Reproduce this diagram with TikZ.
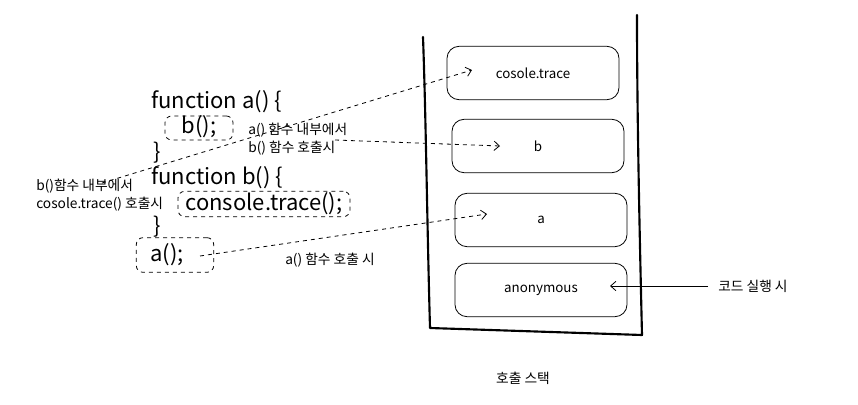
\documentclass[tikz,border=0pt]{standalone}
\usepackage{fontspec}
\setmainfont{Noto Sans CJK KR}
\usetikzlibrary{arrows.meta}
\begin{document}
\begin{tikzpicture}[x=0.75pt,y=-0.75pt,
  stackbox/.style={draw,rounded corners=9pt,line width=0.6pt,minimum width=129pt,minimum height=40pt,font=\fontsize{10}{12}\selectfont},
  codetxt/.style={font=\fontsize{16.5}{19}\selectfont,inner sep=0pt},
  codebox/.style={draw,dashed,rounded corners=5pt,line width=0.6pt},
  lbl/.style={font=\fontsize{10.3}{13.5}\selectfont,align=left,inner sep=0pt},
  dasharrow/.style={dashed,line width=0.6pt,-{Straight Barb[length=4pt,width=7pt]}},
  wall/.style={line width=1.6pt,line cap=round,line join=round}]
\useasboundingbox (0,0) rectangle (858,404);
% stack container
\draw[wall] (423,37) .. controls (426,120) and (427,220) .. (430,328)
  -- (642,335) .. controls (640,250) and (637,120) .. (637,15);
% stack boxes
\node[stackbox] (ct) at (533,73) {cosole.trace};
\node[stackbox] (bb) at (538,146) {b};
\node[stackbox] (ab) at (541,220) {a};
\node[stackbox] (an) at (541,290) {anonymous};
% code
\node[codetxt,anchor=west] (fa) at (151,102) {function a() \{};
\node[codebox,minimum width=51pt,minimum height=18pt] (bcallbox) at (199,128) {};
\node[codetxt] (bcall) at (199,127) {b();};
\node[codetxt] (c1) at (157,153) {\}};
\node[codetxt,anchor=west] (fb) at (151,178) {function b() \{};
\node[codebox,minimum width=129pt,minimum height=19pt] (ctbox) at (264,204) {};
\node[codetxt] (ctcall) at (264,204) {console.trace();};
\node[codetxt] (c2) at (157,227) {\}};
\node[codebox,minimum width=58pt,minimum height=26pt] (acallbox) at (175,255) {};
\node[codetxt] (acall) at (167,255) {a();};
% labels
\node[lbl,anchor=west] (l1) at (36,195) {b()함수 내부에서\\cosole.trace() 호출시};
\node[lbl,anchor=west] (l2) at (248,139) {a() 함수 내부에서\\b() 함수 호출시};
\node[lbl,anchor=west] (l3) at (285,260) {a() 함수 호출 시};
\node[lbl,anchor=west] (l4) at (718,286) {코드 실행 시};
\node[lbl] (title) at (523,378) {호출 스택};
% arrows
\coordinate (s1) at (102,183);
\coordinate (e1) at (472,70);
\coordinate (s2) at (335,140);
\coordinate (e2) at (500,146);
\coordinate (s3) at (200,256);
\coordinate (e3) at (487,214);
\coordinate (s4) at (708,286);
\coordinate (e4) at (610,286);
\draw[dasharrow] (s1) -- (e1);
\draw[dasharrow] (s2) -- (e2);
\draw[dasharrow] (s3) -- (e3);
\draw[line width=0.6pt,-{Straight Barb[length=4pt,width=7pt]}] (s4) -- (e4);
\end{tikzpicture}
\end{document}
